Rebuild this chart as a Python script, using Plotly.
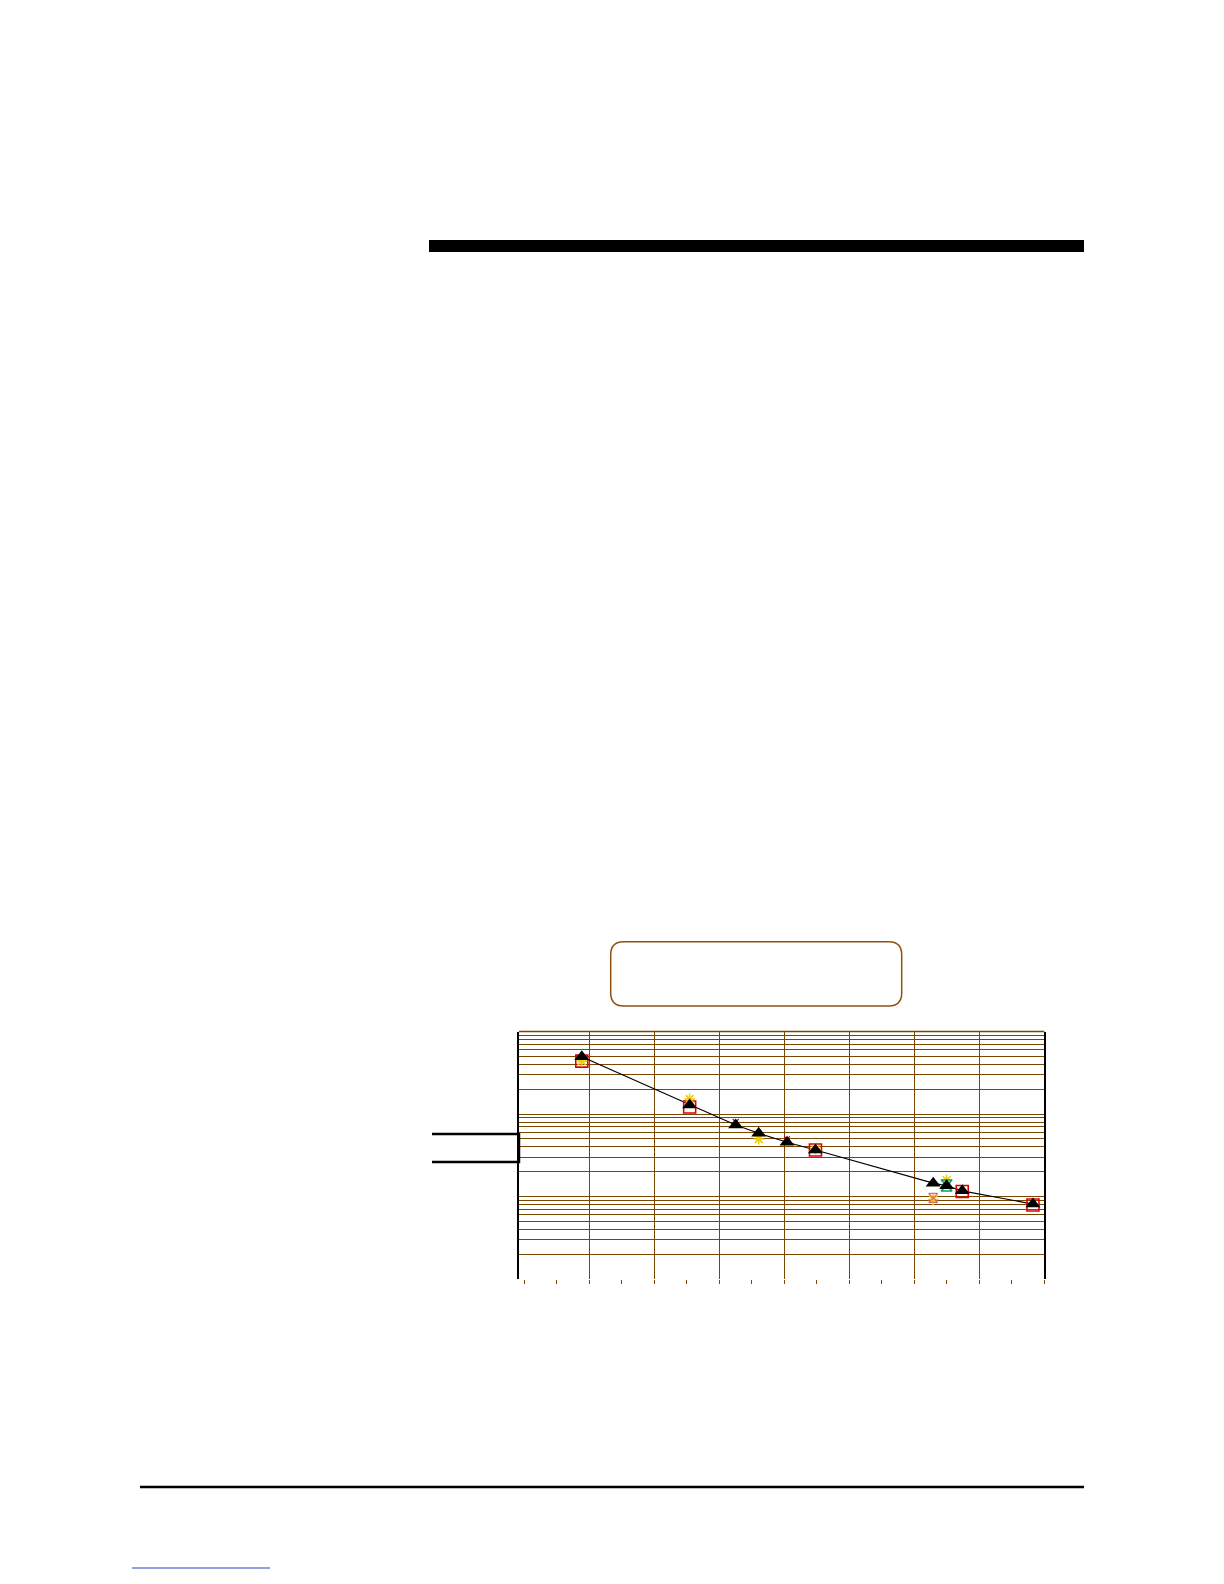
import plotly.graph_objs as go

# page is 1224x1584, browser body margin is 8px
W, H, M = 1208, 1568, 8

# main series (black triangles joined by a line)
tri_x = [0.886, 2.545, 3.253, 3.607, 4.043, 4.480, 6.291, 6.497, 6.738, 7.826]
tri_y = [495, 128.5, 73.6, 58.4, 45.4, 36.6, 14.5, 13.5, 11.7, 8.1]

# red open squares
sq_x = [0.886, 2.545, 4.480, 6.738, 7.826]
sq_y = [438, 121.6, 36.6, 11.5, 7.9]

# yellow crosses
star_x = [0.886, 2.545, 3.607, 4.480, 6.291, 6.497]
star_y = [438, 152, 49.8, 37.5, 9.2, 15.8]

# green hourglass
grn_x = [6.497]
grn_y = [13.6]

# small red marks
red_x = [3.253, 4.043]
red_y = [80.0, 49.5]

# pink hourglass
pink_x = [6.291]
pink_y = [9.6]

x_grid = [1, 2, 3, 4, 5, 6, 7, 8]

BROWN = '#7a4600'


def px(x):
    return (x - M) / W


def py(y):
    return 1 - (y - M) / H


layout = go.Layout(
    width=W,
    height=H,
    margin=dict(l=0, r=0, t=0, b=0),
    paper_bgcolor='white',
    plot_bgcolor='white',
    showlegend=False,
    xaxis=dict(
        domain=[px(519), px(1044.3)],
        range=[-0.08, 8],
        tickvals=x_grid,
        showticklabels=False,
        ticks='outside',
        ticklen=4,
        tickcolor=BROWN,
        showgrid=True,
        gridcolor=BROWN,
        gridwidth=1.4,
        zeroline=False,
        showline=False,
        minor=dict(dtick=0.5, tick0=0, ticks='outside', ticklen=4,
                   tickcolor=BROWN, showgrid=False),
    ),
    yaxis=dict(
        domain=[py(1279), py(1031.5)],
        type='log',
        range=[0, 3],
        dtick='D1',
        showticklabels=False,
        ticks='',
        showgrid=True,
        gridcolor=BROWN,
        gridwidth=1.4,
        zeroline=False,
        showline=True,
        linecolor='black',
        linewidth=2,
        mirror=True,
    ),
)

line = go.Scatter(x=tri_x, y=tri_y, mode='lines',
                  line=dict(color='black', width=1.2))
squares = go.Scatter(x=sq_x, y=sq_y, mode='markers',
                     marker=dict(symbol='square-open', size=12,
                                 color='#e00000', line=dict(width=1.6)))
stars = go.Scatter(x=star_x, y=star_y, mode='markers',
                   marker=dict(symbol='asterisk-open', size=9,
                               color='#f0d000', line=dict(width=1.6, color='#f0d000')))
green = go.Scatter(x=grn_x, y=grn_y, mode='markers',
                   marker=dict(symbol='hourglass-open', size=11,
                               color='#00a070', line=dict(width=1.5)))
pink = go.Scatter(x=pink_x, y=pink_y, mode='markers',
                  marker=dict(symbol='hourglass-open', size=9,
                              color='#e07070', line=dict(width=1.2)))
reds = go.Scatter(x=red_x, y=red_y, mode='markers',
                  marker=dict(symbol='x-thin-open', size=6,
                              color='#e00000', line=dict(width=1.2)))
tris = go.Scatter(x=tri_x, y=tri_y, mode='markers',
                  marker=dict(symbol='triangle-up', size=13, color='black'))

fig = go.Figure(data=[line, squares, stars, green, pink, reds, tris], layout=layout)

shapes = [
    # thick bar at top of page
    dict(type='rect', x0=px(429), x1=px(1084), y0=py(252), y1=py(240),
         fillcolor='black', line=dict(width=0)),
    # footer rule
    dict(type='line', x0=px(140), x1=px(1084), y0=py(1487), y1=py(1487),
         line=dict(color='black', width=2.5)),
    # link underline
    dict(type='line', x0=px(132), x1=px(270), y0=py(1568), y1=py(1568),
         line=dict(color='#2040c0', width=1)),
    # bracket left of the chart
    dict(type='path',
         path='M %f,%f L %f,%f L %f,%f L %f,%f' % (
             px(432), py(1134), px(519), py(1134),
             px(519), py(1162), px(432), py(1162)),
         line=dict(color='black', width=2.5)),
    # top border of plot area
    dict(type='line', x0=px(519), x1=px(1044.3), y0=py(1031.5), y1=py(1031.5),
         line=dict(color=BROWN, width=1.4)),
]

# rounded title box
bx0, by0, bx1, by1, r = 610.7, 941.7, 901.7, 1006, 13
path = ('M %f,%f L %f,%f Q %f,%f %f,%f L %f,%f Q %f,%f %f,%f '
        'L %f,%f Q %f,%f %f,%f L %f,%f Q %f,%f %f,%f Z') % (
    px(bx0 + r), py(by0), px(bx1 - r), py(by0),
    px(bx1), py(by0), px(bx1), py(by0 + r),
    px(bx1), py(by1 - r),
    px(bx1), py(by1), px(bx1 - r), py(by1),
    px(bx0 + r), py(by1),
    px(bx0), py(by1), px(bx0), py(by1 - r),
    px(bx0), py(by0 + r),
    px(bx0), py(by0), px(bx0 + r), py(by0))
shapes.append(dict(type='path', path=path, line=dict(color='#8e5210', width=1.5)))

for s in shapes:
    s['xref'] = 'paper'
    s['yref'] = 'paper'
    fig.add_shape(**s)

fig.write_html('out.html', config=dict(displayModeBar=False))
